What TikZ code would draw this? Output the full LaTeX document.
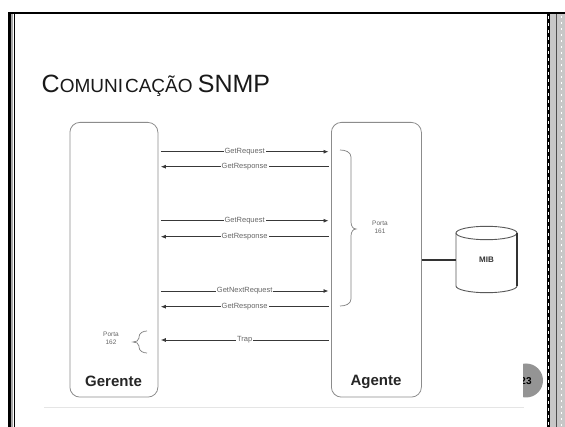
\documentclass[tikz,border=0pt]{standalone}
\usepackage{fontspec}
\setmainfont{Liberation Sans}
\usetikzlibrary{arrows.meta}
\begin{document}
\begin{tikzpicture}[x=1pt,y=-1pt,
  box/.style={draw=black!45, line width=0.8pt, rounded corners=10pt, inner sep=0pt},
  msg/.style={draw=black!78, line width=0.8pt, -{Latex[length=5pt,width=4pt]}, shorten >=2.5pt, shorten <=2.5pt},
  lbl/.style={fill=white, text=black!60, font=\fontsize{7.5}{8}\selectfont, inner sep=1pt},
  portlbl/.style={font=\fontsize{6.5}{8}\selectfont, text=black!60, align=center, inner sep=0pt},
  boxtitle/.style={font=\fontsize{15}{16}\selectfont\bfseries, text=black!85, inner sep=0pt},
  bracel/.style={draw=black!50, line width=0.7pt}]
\useasboundingbox (0,0) rectangle (565,427);
% frame
\fill[white] (0,0) rectangle (565,427);
\draw[line width=2pt, black] (8,13.5) -- (565,13.5);
\draw[line width=3pt, black] (9,13) -- (9,427);
\draw[line width=2pt, black!35] (12,14.5) -- (12,427);
\draw[line width=1pt, black] (14.2,14.5) -- (14.2,427);
\fill[black!22] (550,14.5) rectangle (565,427);
\fill[black] (547,14.5) rectangle (550,427);
\draw[white, line width=1.2pt, dash pattern=on 3pt off 4pt] (548.5,16) -- (548.5,427);
\draw[black!70, line width=0.6pt] (556,14.5) -- (556,427);
\draw[white, line width=1pt, dash pattern=on 2pt off 4pt] (561.5,16) -- (561.5,427);
% title
\node[anchor=base west, inner sep=0pt, text=black!90] (title) at (41.5,92.7)
  {\fontsize{25}{28}\selectfont C\fontsize{19}{22}\selectfont OMUNI\kern2pt CAÇÃO \fontsize{25}{28}\selectfont SNMP};
% boxes
\node[box, anchor=north west, minimum width=88pt, minimum height=274.7pt] (ger) at (69.5,122) {};
\node[box, anchor=north west, minimum width=90pt, minimum height=274.7pt] (agt) at (331,122) {};
\node[boxtitle] (gl) at (113.5,381.7) {Gerente};
\node[boxtitle] (al) at (376,381.7) {Agente};
% messages
\draw[msg] (ger.east |- 0,151.7) -- node[lbl] (m1) {GetRequest} (agt.west |- 0,151.7);
\draw[msg] (agt.west |- 0,166.7) -- node[lbl] (m2) {GetResponse} (ger.east |- 0,166.7);
\draw[msg] (ger.east |- 0,220.7) -- node[lbl] (m3) {GetRequest} (agt.west |- 0,220.7);
\draw[msg] (agt.west |- 0,236.7) -- node[lbl] (m4) {GetResponse} (ger.east |- 0,236.7);
\draw[msg] (ger.east |- 0,291) -- node[lbl] (m5) {GetNextRequest} (agt.west |- 0,291);
\draw[msg] (agt.west |- 0,306.7) -- node[lbl] (m6) {GetResponse} (ger.east |- 0,306.7);
\draw[msg] (agt.west |- 0,340) -- node[lbl] (m7) {Trap} (ger.east |- 0,340);
% brace port 161
\draw[bracel] (340,150) to[out=0,in=90] (351,157) -- (351,222) to[out=-90,in=180] (356,229)
  to[out=180,in=90] (351,236) -- (351,299) to[out=-90,in=0] (340,306);
\node[portlbl] (p161) at (380,227.5) {Porta\\161};
% brace port 162
\draw[bracel] (147,331) to[out=180,in=90] (139,337) -- (139,338) to[out=-90,in=0] (133,342)
  to[out=0,in=90] (139,346) -- (139,347) to[out=-90,in=180] (147,353);
\node[portlbl] (p162) at (111,338.5) {Porta\\162};
% MIB
\draw[black!65, line width=0.9pt, fill=white] (456,233) -- (456,286) arc[start angle=180, end angle=0, x radius=30.5, y radius=6.7] -- (517,233);
\draw[black!65, line width=0.9pt] (486.5,233) ellipse[x radius=30.5, y radius=6.7];
\draw[black!80, line width=1.3pt] (517,233) -- (517,286);
\node[inner sep=0pt, minimum width=61pt, minimum height=60pt, font=\fontsize{8}{9}\selectfont\bfseries, text=black!80] (mib) at (486.5,260) {MIB};
\draw[black!80, line width=1.8pt] (agt.east |- mib.west) -- (mib.west);
% bottom line
\draw[black!10, line width=0.8pt] (44,407) -- (524,407);
% page number
\begin{scope}
\clip (523,355) rectangle (546,405);
\fill[black!42] (526,380.5) circle (17);
\node[font=\fontsize{10}{12}\selectfont\bfseries, inner sep=0pt] (pg) at (526,381) {23};
\end{scope}
\end{tikzpicture}
\end{document}
